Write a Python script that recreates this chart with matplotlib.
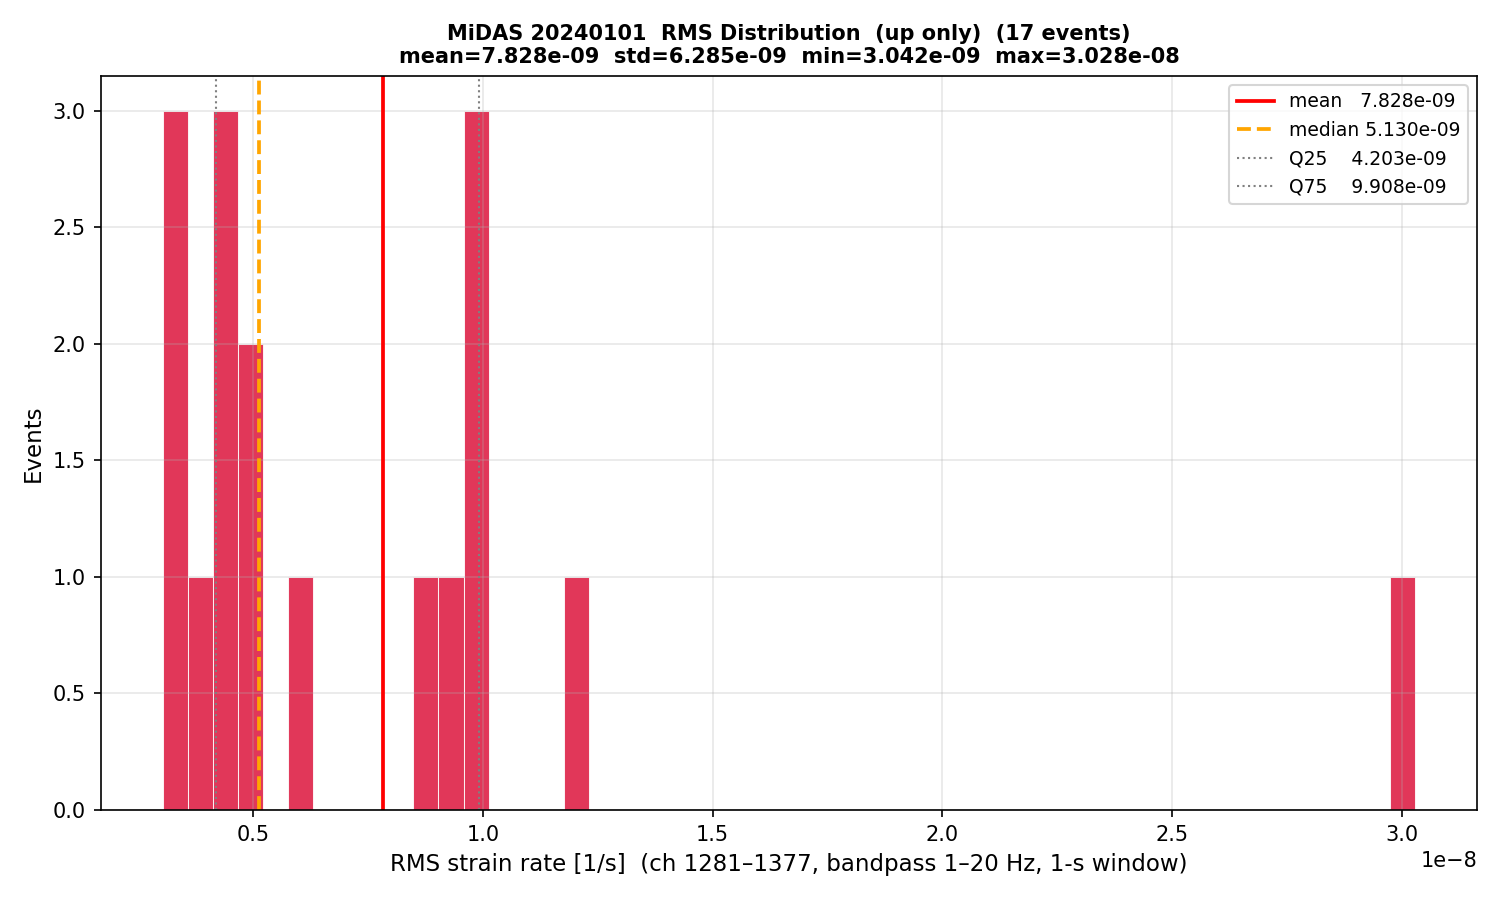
import numpy as np
import matplotlib
matplotlib.use("Agg")
import matplotlib.pyplot as plt

# Per-event RMS values (1/s)
rms_values = [3.042e-9, 3.25e-9, 3.45e-9, 3.90e-9, 4.203e-9, 4.40e-9, 4.60e-9,
              4.90e-9, 5.130e-9, 6.00e-9, 8.80e-9, 9.30e-9, 9.908e-9, 9.92e-9,
              10.00e-9, 12.00e-9, 30.28e-9]

# Summary statistics as printed on the chart
stat_names = ["mean", "median", "Q25", "Q75"]
stat_values = [7.828e-09, 5.130e-09, 4.203e-09, 9.908e-09]
stat_std = 6.285e-09
stat_min = 3.042e-09
stat_max = 3.028e-08
n_bins = 50

fig, ax = plt.subplots(figsize=(10, 6), dpi=150)
fig.subplots_adjust(left=0.067, right=0.985, top=0.916, bottom=0.1)

ax.hist(rms_values, bins=n_bins, color="crimson", alpha=0.85,
        edgecolor="white", linewidth=0.5)

mean_v, med_v, q25_v, q75_v = stat_values
ax.axvline(mean_v, color="red", lw=1.8, label=f"mean   {mean_v:.3e}")
ax.axvline(med_v, color="orange", lw=1.8, ls="--", label=f"median {med_v:.3e}")
ax.axvline(q25_v, color="gray", lw=1, ls=":", label=f"Q25    {q25_v:.3e}")
ax.axvline(q75_v, color="gray", lw=1, ls=":", label=f"Q75    {q75_v:.3e}")

ax.set_xlabel("RMS strain rate [1/s]  (ch 1281\u20131377, bandpass 1\u201320 Hz, 1-s window)", fontsize=11)
ax.set_ylabel("Events", fontsize=11)
ax.set_title(f"MiDAS 20240101  RMS Distribution  (up only)  ({len(rms_values)} events)\n"
             f"mean={mean_v:.3e}  std={stat_std:.3e}  min={stat_min:.3e}  max={stat_max:.3e}",
             fontsize=10, fontweight="bold")
ax.grid(alpha=0.3)
ax.legend(fontsize=9)

fig.savefig("out.png", dpi=150)
